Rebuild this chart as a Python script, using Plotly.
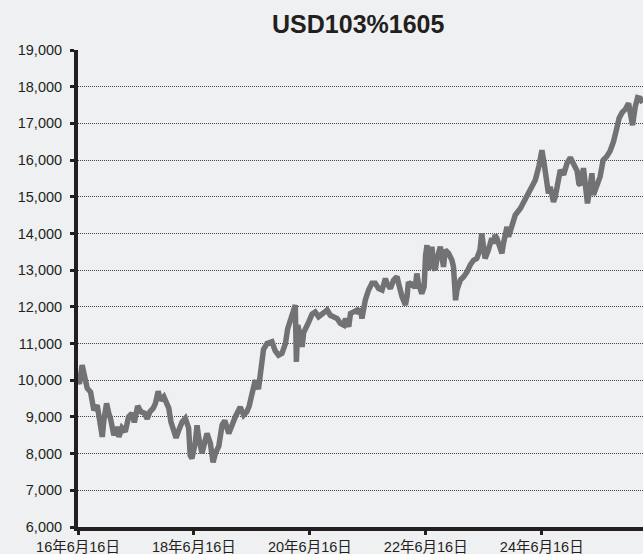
import plotly.graph_objects as go

# ---- data ----
dates = [
    "2016-06-16", "2016-06-25", "2016-07-12", "2016-07-20", "2016-08-13", "2016-09-03", "2016-09-24",
    "2016-10-15", "2016-11-05", "2016-11-16", "2016-11-26", "2016-12-13", "2016-12-27", "2017-01-07",
    "2017-01-28", "2017-02-15", "2017-03-01", "2017-03-20", "2017-04-10", "2017-05-01", "2017-05-22",
    "2017-06-06", "2017-06-27", "2017-07-18", "2017-08-09", "2017-08-26", "2017-09-12", "2017-10-03",
    "2017-10-17", "2017-11-03", "2017-11-18", "2017-12-09", "2017-12-27", "2018-01-09", "2018-01-23",
    "2018-02-10", "2018-02-24", "2018-03-13", "2018-04-03", "2018-04-23", "2018-05-14", "2018-05-24",
    "2018-06-04", "2018-06-25", "2018-07-06", "2018-07-16", "2018-08-06", "2018-08-17", "2018-09-07",
    "2018-09-28", "2018-10-15", "2018-10-30", "2018-11-20", "2018-12-11", "2018-12-28", "2019-01-22",
    "2019-02-12", "2019-03-04", "2019-04-04", "2019-04-26", "2019-05-16", "2019-05-31", "2019-06-13",
    "2019-06-25", "2019-07-08", "2019-07-28", "2019-08-08", "2019-08-29", "2019-09-20", "2019-10-21",
    "2019-11-11", "2019-12-02", "2019-12-23", "2020-01-14", "2020-01-28", "2020-02-15", "2020-03-06",
    "2020-03-16", "2020-03-23", "2020-04-01", "2020-04-17", "2020-04-28", "2020-05-08", "2020-05-29",
    "2020-06-09", "2020-06-30", "2020-07-20", "2020-08-10", "2020-09-01", "2020-10-03", "2020-10-23",
    "2020-11-14", "2020-12-05", "2020-12-25", "2021-01-16", "2021-01-26", "2021-02-16", "2021-02-27",
    "2021-03-18", "2021-04-09", "2021-04-19", "2021-04-30", "2021-05-10", "2021-05-20", "2021-05-31",
    "2021-06-21", "2021-07-12", "2021-08-02", "2021-08-23", "2021-09-14", "2021-10-05", "2021-10-15",
    "2021-11-05", "2021-11-26", "2021-12-17", "2021-12-27", "2022-01-07", "2022-01-18", "2022-02-08",
    "2022-02-18", "2022-02-27", "2022-03-20", "2022-03-30", "2022-04-10", "2022-04-21", "2022-05-01",
    "2022-05-22", "2022-06-06", "2022-06-15", "2022-06-24", "2022-07-02", "2022-07-11", "2022-07-25",
    "2022-08-04", "2022-08-15", "2022-08-26", "2022-09-16", "2022-10-06", "2022-10-17", "2022-11-07",
    "2022-11-28", "2022-12-08", "2022-12-15", "2022-12-21", "2022-12-30", "2023-01-20", "2023-02-10",
    "2023-03-03", "2023-03-23", "2023-04-13", "2023-05-04", "2023-05-24", "2023-06-04", "2023-06-15",
    "2023-06-25", "2023-07-16", "2023-08-06", "2023-08-17", "2023-08-27", "2023-09-07", "2023-09-28",
    "2023-10-09", "2023-10-19", "2023-10-30", "2023-11-10", "2023-11-20", "2023-12-11", "2024-01-01",
    "2024-02-02", "2024-03-04", "2024-04-04", "2024-05-06", "2024-05-30", "2024-06-17", "2024-07-01",
    "2024-07-18", "2024-07-28", "2024-08-08", "2024-08-29", "2024-09-09", "2024-09-30", "2024-10-11",
    "2024-11-01", "2024-11-22", "2024-12-13", "2025-01-03", "2025-01-25", "2025-02-05", "2025-02-15",
    "2025-03-06", "2025-03-16", "2025-03-31", "2025-04-13", "2025-04-28", "2025-05-08", "2025-05-29",
    "2025-06-19", "2025-07-08", "2025-07-31", "2025-08-21", "2025-09-11", "2025-10-01", "2025-10-17",
    "2025-11-05", "2025-11-24", "2025-12-15", "2025-12-29", "2026-01-09", "2026-01-26", "2026-02-10",
    "2026-02-27", "2026-03-14",
]

values = [
    10000, 9900, 10410, 10200, 9780, 9680, 9180,
    9320, 8640, 8455, 8910, 9370, 9100, 8950,
    8500, 8730, 8455, 8700, 8600, 9000, 9100,
    8850, 9300, 9140, 9100, 8950, 9140, 9240,
    9370, 9700, 9450, 9550, 9370, 9240, 8860,
    8640, 8430, 8640, 8860, 8960, 8700, 7950,
    7870, 8300, 8770, 8455, 8010, 8200, 8550,
    8280, 7760, 8010, 8200, 8780, 8900, 8550,
    8800, 9000, 9270, 9050, 9140, 9300, 9550,
    9820, 10000, 9760, 10230, 10840, 11000, 11050,
    10800, 10680, 10730, 11000, 11400, 11650, 11910,
    12050, 10500, 11500, 11200, 10910, 11300, 11460,
    11590, 11800, 11860, 11730, 11820, 11910, 11770,
    11730, 11680, 11550, 11500, 11680, 11460, 11820,
    11860, 11910, 11820, 11960, 11680, 12000, 12180,
    12460, 12640, 12640, 12500, 12460, 12770, 12640,
    12500, 12730, 12820, 12640, 12360, 12270, 12050,
    12270, 12680, 12550, 12680, 12500, 12910, 12640,
    12360, 12550, 13400, 13680, 13000, 13300, 13640,
    13090, 13000, 13320, 13640, 13090, 13550, 13460,
    13270, 13090, 12640, 12180, 12460, 12730, 12820,
    12950, 13140, 13270, 13320, 13550, 14000, 13730,
    13320, 13550, 13870, 13730, 13960, 13870, 13500,
    13460, 13730, 14000, 14180, 13910, 14200, 14500,
    14680, 14950, 15200, 15450, 15850, 16270, 15910,
    15270, 15090, 15270, 14860, 15000, 15550, 15730,
    15600, 15910, 16070, 15880, 15700, 15360, 15320,
    15780, 15450, 14820, 15140, 15640, 15050, 15300,
    15550, 16000, 16100, 16250, 16500, 16850, 17150,
    17300, 17380, 17550, 17300, 16950, 17450, 17700,
    17680, 17560,
]

title_text = "USD103%1605"
x_tick_dates = ["2016-06-16", "2018-06-16", "2020-06-16", "2022-06-16", "2024-06-16"]
x_tick_labels = ["16年6月16日", "18年6月16日", "20年6月16日", "22年6月16日", "24年6月16日"]
y_tick_values = [6000, 7000, 8000, 9000, 10000, 11000, 12000, 13000, 14000, 15000, 16000, 17000, 18000, 19000]
y_tick_labels = ["6,000", "7,000", "8,000", "9,000", "10,000", "11,000", "12,000", "13,000",
                 "14,000", "15,000", "16,000", "17,000", "18,000", "19,000"]

BG = "#eff0f2"
FONT = "Liberation Sans, Arial, Noto Sans CJK JP, sans-serif"

fig = go.Figure()
fig.add_trace(go.Scatter(
    x=dates, y=values, mode="lines",
    line=dict(color="#727274", width=5.5),
    hoverinfo="skip", showlegend=False,
))

fig.update_layout(
    width=643, height=554,
    paper_bgcolor=BG, plot_bgcolor=BG,
    margin=dict(l=78, r=0, t=50, b=27, pad=0),
    font=dict(family=FONT, size=14.5, color="#231f20"),
    title=dict(text="<b>" + title_text + "</b>", x=0.496, xref="paper", xanchor="center",
               y=1 - 24 / 554, yref="container", yanchor="middle",
               font=dict(family=FONT, size=25, color="#231f20")),
    showlegend=False,
)

fig.update_xaxes(
    type="date", range=["2016-06-16", "2026-03-16"],
    tickvals=x_tick_dates, ticktext=x_tick_labels,
    ticks="outside", ticklen=4, tickwidth=3, tickcolor="#231f20",
    showline=True, linecolor="#231f20", linewidth=4,
    showgrid=False, zeroline=False,
    tickfont=dict(family=FONT, size=14.5, color="#231f20"),
)

fig.update_yaxes(
    range=[6000, 19000],
    tickvals=y_tick_values, ticktext=y_tick_labels,
    ticks="outside", ticklen=4, tickwidth=3, tickcolor="#231f20",
    ticklabelstandoff=5,
    showline=True, linecolor="#231f20", linewidth=4,
    showgrid=True, gridcolor="#444444", gridwidth=1, griddash="1px,1px",
    zeroline=False,
    tickfont=dict(family=FONT, size=14.5, color="#231f20"),
)

fig.write_html(
    "out.html",
    config={"displayModeBar": False},
    post_script="document.body.style.margin='0';document.body.style.padding='0';",
)
